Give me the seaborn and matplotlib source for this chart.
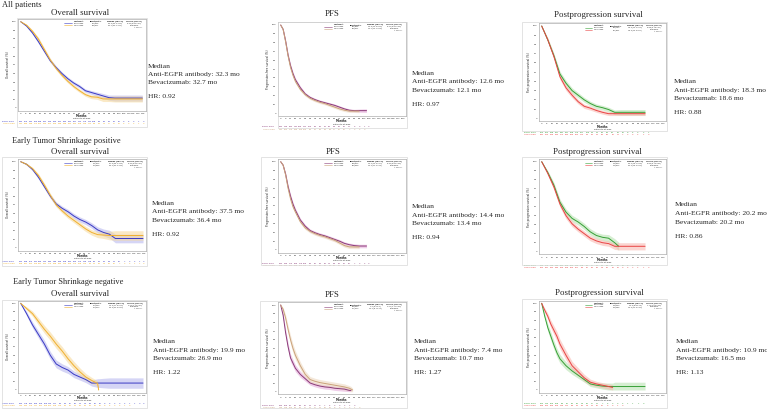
import matplotlib.pyplot as plt
import matplotlib.transforms as mtrans
from matplotlib.patches import Rectangle
import numpy as np
import pandas as pd
import seaborn as sns

nan = np.nan

# ---- Overall survival (months, % surviving, CI half-width) ----
os_all_t = [0, 6, 12, 18, 24, 30, 36, 42, 48, 54, 60, 66, 72, 78, 84, 90, 96, 102, 108, 114, 120, 124]
os_all_egfr = [100, 95, 87, 77, 66, 55, 47, 40, 34, 29, 25, 20, 18, 16, 14, 12, 11.5, 11.5, 11.5, 11.5, 11.5, 11.5]
os_all_vegf = [100, 96, 89, 80, 68, 56, 46, 38, 31, 25, 20, 15.5, 13, 12.5, 10.5, 10.5, 10.5, 10.5, 10.5, 10.5, 10.5, 10.5]
os_all_egfr_ci = [0, 1, 1.5, 2, 2, 2, 2, 2, 2, 2, 2, 2, 2.2, 2.5, 2.8, 3, 3.5, 3.5, 3.5, 3.5, 3.5, 3.5]
os_all_vegf_ci = [0, 1, 1.5, 2, 2, 2, 2, 2, 2, 2, 2, 2, 2.2, 2.5, 3, 3, 3.5, 3.5, 3.5, 3.5, 3.5, 3.5]

os_pos_t = [0, 6, 12, 18, 24, 30, 36, 42, 48, 54, 60, 66, 72, 78, 84, 90, 96, 102, 108, 114, 120, 124]
os_pos_egfr = [100, 97, 91, 82, 71, 60, 51, 46, 42, 37, 33, 30, 26, 21, 18, 16, 11, 11, 11, 11, 11, 11]
os_pos_vegf = [100, 97, 92, 84, 73, 61, 50, 43, 37, 32, 27, 22, 18, 15.5, 15, 14.5, 14.5, 14.5, 14.5, 14.5, 14.5, 14.5]
os_pos_egfr_ci = [0, 1, 1.5, 2, 2.2, 2.4, 2.5, 2.6, 2.7, 2.8, 3, 3, 3.2, 3.5, 4, 4.5, 5, 5, 5, 5, 5, 5]
os_pos_vegf_ci = [0, 1, 1.5, 2, 2.2, 2.4, 2.5, 2.6, 2.7, 2.8, 3, 3, 3.2, 3.5, 4, 5, 5.5, 5.5, 5.5, 5.5, 5.5, 5.5]

os_neg_t = [0, 6, 12, 18, 24, 30, 36, 42, 48, 54, 60, 66, 72, 78, 79, 84, 90, 96, 102, 108, 114, 120, 124]
os_neg_egfr = [100, 88, 75, 64, 53, 40, 30, 26, 23, 18, 15, 12, 8, 8, 8, 8, 8, 8, 8, 8, 8, 8, 8]
os_neg_vegf = [100, 94, 88, 79, 70, 62, 53, 45, 36, 28, 21, 15, 11, 7.5, 0, nan, nan, nan, nan, nan, nan, nan, nan]
os_neg_egfr_ci = [0, 2.5, 3.5, 4, 4.5, 4.5, 4.5, 4.2, 4, 3.8, 3.6, 3.5, 3.5, 5, 5, 5.5, 6, 6, 6, 6, 6, 6, 6]
os_neg_vegf_ci = [0, 2, 3, 4, 4.5, 4.8, 5, 5, 5, 4.8, 4.5, 4, 3.5, 3, 0, nan, nan, nan, nan, nan, nan, nan, nan]

# ---- PFS ----
pfs_all_t = [0, 3, 6, 9, 12, 15, 18, 24, 30, 36, 42, 48, 54, 60, 66, 72, 78, 84, 90, 96, 102, 105]
pfs_all_egfr = [100, 95, 82, 66, 54, 45, 38, 29, 22, 18, 15.5, 13.5, 12, 10.5, 9, 7, 5, 3.5, 3, 3, 3, 3]
pfs_all_vegf = [100, 95, 81, 65, 52, 43, 36, 27, 21, 17, 14.5, 12.5, 11, 9, 7, 5, 3.5, 2.5, 2.5, 2.5, nan, nan]
pfs_all_egfr_ci = [0, 1, 1.5, 2, 2, 2, 2, 1.8, 1.6, 1.5, 1.5, 1.5, 1.5, 1.5, 1.5, 1.5, 1.5, 1.5, 1.5, 1.8, 2, 2]
pfs_all_vegf_ci = [0, 1, 1.5, 2, 2, 2, 2, 1.8, 1.6, 1.5, 1.5, 1.5, 1.5, 1.5, 1.5, 1.5, 1.5, 1.5, 1.5, 1.8, nan, nan]

pfs_pos_t = [0, 3, 6, 9, 12, 15, 18, 24, 30, 36, 42, 48, 54, 60, 66, 72, 78, 84, 90, 96, 102, 105]
pfs_pos_egfr = [100, 96, 86, 72, 61, 52, 45, 34, 27, 22, 19.5, 17.5, 16, 14, 12, 10, 7.5, 6, 5, 4.5, 4.5, 4.5]
pfs_pos_vegf = [100, 96, 85, 70, 58, 49, 43, 32, 25, 21, 18.5, 16.5, 15, 13, 11, 8, 5, 3.5, 3.5, 3.5, nan, nan]
pfs_pos_egfr_ci = [0, 1, 1.5, 2, 2.2, 2.2, 2.2, 2, 1.8, 1.8, 1.8, 1.8, 1.8, 1.8, 1.8, 1.8, 1.8, 1.8, 2, 2, 2, 2]
pfs_pos_vegf_ci = [0, 1, 1.5, 2, 2.2, 2.2, 2.2, 2, 1.8, 1.8, 1.8, 1.8, 1.8, 1.8, 1.8, 1.8, 1.8, 1.8, 2, 2, nan, nan]

pfs_neg_t = [0, 3, 6, 9, 12, 15, 18, 24, 30, 36, 42, 48, 54, 60, 66, 72, 78, 84, 86, 88]
pfs_neg_egfr = [100, 88, 68, 52, 39, 33, 27, 20, 15, 10, 8, 6.5, 5.5, 5, 4, 3.5, 3, 1.5, 1.5, nan]
pfs_neg_vegf = [100, 95, 85, 72, 60, 50, 42, 30, 20, 14, 12, 10.5, 9.5, 8.5, 7.5, 6.5, 5.5, 4, 3, 2]
pfs_neg_egfr_ci = [0, 3, 4, 4.5, 4.5, 4, 4, 3.5, 3, 2.5, 2.5, 2.5, 2.5, 2.5, 2.5, 2.5, 2.5, 2, 2, nan]
pfs_neg_vegf_ci = [0, 2, 3.5, 4.5, 5, 5, 5, 4.5, 4, 3.5, 3.5, 3.5, 3.5, 3.5, 3.5, 3.5, 3.5, 3, 3, 2]

# ---- Postprogression survival ----
pps_all_t = [0, 6, 12, 18, 24, 30, 36, 42, 48, 54, 60, 66, 72, 78, 84, 90, 96, 102]
pps_all_egfr = [100, 85, 68, 48, 38, 30, 25, 20, 16, 13, 11.5, 9.5, 6.5, 6.5, 6.5, 6.5, 6.5, 6.5]
pps_all_vegf = [100, 85, 67, 45, 33, 25, 18, 13, 11, 8.5, 6.5, 5, 5, 5, 5, 5, 5, 5]
pps_all_egfr_ci = [0, 2, 2.5, 3, 3, 3, 2.8, 2.6, 2.5, 2.5, 2.5, 2.5, 2.5, 3, 3, 3, 3, 3]
pps_all_vegf_ci = [0, 2, 2.5, 3, 3, 2.8, 2.5, 2.3, 2.2, 2, 2, 2, 2, 2, 2, 2, 2, 2]

pps_pos_t = [0, 6, 12, 18, 24, 30, 36, 42, 48, 54, 60, 66, 72, 76, 78, 84, 90, 96, 102]
pps_pos_egfr = [100, 88, 74, 55, 44, 37, 33, 28, 22, 18, 16, 15, 10, 6, nan, nan, nan, nan, nan]
pps_pos_vegf = [100, 87, 72, 53, 40, 31, 25, 20, 15, 12, 10, 9, 6, 6, 6, 6, 6, 6, 6]
pps_pos_egfr_ci = [0, 2, 3, 3.5, 3.5, 3.5, 3.5, 3.5, 3.5, 3.5, 3.5, 4, 4.5, 4.5, nan, nan, nan, nan, nan]
pps_pos_vegf_ci = [0, 2, 3, 3.5, 3.5, 3.2, 3, 3, 3, 3, 3, 3, 3.5, 4, 4, 4, 4, 4, 4]

pps_neg_t = [0, 3, 6, 9, 12, 15, 18, 24, 30, 36, 42, 48, 54, 60, 66, 70, 72, 78, 84, 90, 96, 102]
pps_neg_egfr = [100, 85, 72, 62, 52, 43, 36, 28, 22, 17, 12, 7, 5.5, 4.5, 4, 4, 4, 4, 4, 4, 4, 4]
pps_neg_vegf = [100, 92, 85, 76, 69, 62, 53, 40, 28, 21, 14, 9, 7, 5.5, 4, 3, nan, nan, nan, nan, nan, nan]
pps_neg_egfr_ci = [0, 3, 4.5, 5, 5, 5, 5, 4.5, 4, 3.5, 3, 3, 3, 3.5, 4, 4, 5, 5, 5, 5, 5, 5]
pps_neg_vegf_ci = [0, 2.5, 3.5, 4.5, 5, 5.5, 5.5, 5.5, 5, 4.5, 4, 3.5, 3, 3, 3, 3, nan, nan, nan, nan, nan, nan]

# ---- x ticks and patients at risk ----
os_ticks = list(range(0, 126, 5))
pfs_ticks = list(range(0, 151, 6))
pps_ticks = list(range(0, 121, 5))

os_all_risk_e = [902, 876, 822, 756, 688, 611, 536, 463, 401, 350, 301, 257, 214, 176, 141, 108, 81, 58, 40, 26, 15, 9, 5, 3, 1, 0]
os_all_risk_v = [911, 889, 838, 772, 702, 620, 541, 466, 398, 338, 282, 232, 188, 149, 114, 84, 60, 41, 27, 17, 10, 6, 3, 2, 1, 0]
os_pos_risk_e = [612, 598, 570, 531, 489, 442, 393, 346, 305, 268, 234, 203, 173, 145, 118, 92, 69, 49, 33, 21, 12, 7, 4, 2, 1, 0]
os_pos_risk_v = [598, 587, 562, 525, 481, 431, 379, 328, 283, 243, 205, 170, 138, 110, 85, 63, 45, 31, 20, 12, 7, 4, 2, 1, 1, 0]
os_neg_risk_e = [290, 278, 252, 225, 199, 169, 143, 117, 96, 82, 67, 54, 41, 31, 23, 16, 12, 9, 6, 4, 3, 2, 1, 1, 0, 0]
os_neg_risk_v = [313, 302, 276, 247, 221, 189, 162, 138, 115, 95, 78, 62, 48, 36, 26, 18, 12, 8, 5, 3, 2, 1, 0]

pfs_all_risk_e = [902, 745, 482, 311, 206, 141, 103, 80, 64, 52, 42, 33, 25, 18, 11, 6, 3, 1, 0]
pfs_all_risk_v = [911, 752, 470, 295, 190, 130, 95, 73, 58, 46, 36, 27, 19, 12, 7, 4, 2, 0]
pfs_pos_risk_e = [612, 535, 370, 255, 176, 125, 95, 75, 61, 50, 41, 33, 26, 19, 12, 7, 4, 2, 0]
pfs_pos_risk_v = [598, 520, 352, 238, 161, 115, 87, 69, 56, 45, 36, 28, 20, 13, 8, 4, 2, 0]
pfs_neg_risk_e = [290, 156, 79, 45, 28, 19, 14, 11, 9, 7, 5, 4, 3, 2, 1, 0]
pfs_neg_risk_v = [313, 215, 120, 68, 40, 27, 21, 17, 14, 12, 10, 8, 6, 4, 2, 1, 0]

pps_all_risk_e = [780, 702, 598, 487, 381, 297, 228, 176, 137, 106, 82, 63, 48, 36, 26, 18, 12, 8, 5, 3, 2, 1]
pps_all_risk_v = [801, 720, 609, 490, 374, 280, 206, 152, 112, 82, 60, 44, 32, 23, 16, 11, 7, 4, 3, 2, 1, 0]
pps_pos_risk_e = [520, 476, 415, 349, 282, 228, 182, 146, 118, 95, 77, 62, 49, 38, 28, 19, 12, 6, 2, 0]
pps_pos_risk_v = [512, 467, 402, 333, 266, 209, 163, 127, 98, 75, 58, 45, 34, 25, 18, 13, 9, 6, 4, 2, 1, 0]
pps_neg_risk_e = [260, 213, 166, 128, 98, 75, 58, 45, 34, 25, 17, 11, 7, 5, 4, 3, 2, 1, 1, 1, 0]
pps_neg_risk_v = [289, 262, 226, 186, 146, 111, 84, 62, 46, 34, 24, 16, 10, 6, 3, 1, 0]

# ---- annotation values ----
row_titles = ["All patients", "Early Tumor Shrinkage positive", "Early Tumor Shrinkage negative"]
col_titles = ["Overall survival", "PFS", "Postprogression survival"]
median_egfr = [[32.3, 12.6, 18.3], [37.5, 14.4, 20.2], [19.9, 7.4, 10.9]]
median_bev = [[32.7, 12.1, 18.6], [36.4, 13.4, 20.2], [26.9, 10.7, 16.5]]
hr_values = [[0.92, 0.97, 0.88], [0.92, 0.94, 0.86], [1.22, 1.27, 1.13]]
events_egfr = [["612/902", "851/902", "598/780"], ["398/612", "566/612", "402/520"], ["214/290", "285/290", "196/260"]]
events_vegf = [["625/911", "862/911", "620/801"], ["412/598", "552/598", "405/512"], ["213/313", "310/313", "215/289"]]

# colours: line EGFR, band EGFR, line VEGF, band VEGF
os_cols = ["#3a3ac4", "#b4b4ee", "#f0b030", "#f6d898"]
pfs_cols = ["#8a3a78", "#e2a6d8", "#caa27a", "#ecd6bc"]
pps_cols = ["#36a036", "#b4e0ac", "#e84444", "#f8b4ac"]

W, H = 767, 412
sns.set_style("white")
plt.rcParams['font.family'] = ['Liberation Serif', 'DejaVu Serif']

fig = plt.figure(figsize=(W / 100, H / 100), dpi=100)


def ftext(x, y, s, **kw):
    fig.text(x / W, 1 - y / H, s, **kw)


def frame(x0, y0, x1, y1):
    fig.patches.append(Rectangle((x0 / W, 1 - y1 / H), (x1 - x0) / W, (y1 - y0) / H,
                                 transform=fig.transFigure, fill=False, ec="#d8d8d8", lw=0.5))


def km(px, t, s_e, s_v, ci_e, ci_v, cols, ticks, risk_e, risk_v, ylab, r, c):
    x0, x1, y100, y0 = px
    tmax = ticks[-1]
    kx = (x1 - x0) / tmax
    ky = (y0 - y100) / 100
    xpad, ypad = 0.02 * tmax, 3
    left, right = x0 - xpad * kx, x1 + xpad * kx
    top, bot = y100 - ypad * ky, y0 + ypad * ky
    ax = fig.add_axes([left / W, 1 - bot / H, (right - left) / W, (bot - top) / H])
    hpx = bot - top

    for s, ci, col in [(s_e, ci_e, cols[1]), (s_v, ci_v, cols[3])]:
        s = np.array(s, float)
        ci = np.array(ci, float)
        ax.fill_between(t, np.clip(s - ci, 0, None), s + ci, color=col, alpha=0.55, lw=0)

    df = pd.DataFrame({"month": t + t, "surv": list(s_e) + list(s_v),
                       "arm": ["EGFR mab"] * len(t) + ["VEGF mab"] * len(t)})
    sns.lineplot(data=df, x="month", y="surv", hue="arm", estimator=None, sort=False,
                 palette={"EGFR mab": cols[0], "VEGF mab": cols[2]}, lw=0.7, legend=False, ax=ax)

    ax.set_xlim(-xpad, tmax + xpad)
    ax.set_ylim(-ypad, 100 + ypad)
    ax.set_xticks(ticks)
    ax.set_xticklabels([str(v) for v in ticks], fontsize=1.7, family="DejaVu Sans")
    ax.set_yticks(range(0, 101, 10))
    ax.set_yticklabels([str(v) for v in range(0, 101, 10)], fontsize=1.7, family="DejaVu Sans")
    ax.tick_params(length=1, width=0.3, pad=0.6, colors="#333333")
    for sp in ax.spines.values():
        sp.set_color("#9a9a9a")
        sp.set_linewidth(0.4)
    ax.set_xlabel("")
    ax.set_ylabel(ylab, fontsize=2, labelpad=1, family="DejaVu Sans")

    ax.text(0.5, -5.5 / hpx, "Months", transform=ax.transAxes, ha="center", va="center",
            fontsize=2, fontweight="bold", family="DejaVu Sans")
    ax.text(0.5, -8 / hpx, "Patients at Risk", transform=ax.transAxes, ha="center", va="center",
            fontsize=1.6, family="DejaVu Sans")
    bt = mtrans.blended_transform_factory(ax.transData, ax.transAxes)
    for k, (risk, col, lab) in enumerate([(risk_e, cols[0], "EGFR mab"), (risk_v, cols[2], "VEGF mab")]):
        yy = -(11 + 2.2 * k) / hpx
        ax.text(-4 / (right - left), yy, lab, transform=ax.transAxes, ha="right", va="center",
                fontsize=1.6, color=col, family="DejaVu Sans")
        for i, v in enumerate(risk):
            ax.text(ticks[i], yy, str(v), transform=bt, ha="center", va="center",
                    fontsize=1.6, color=col, family="DejaVu Sans")

    # legend table in the upper right
    cols_x = [0.47, 0.61, 0.76, 0.91]
    heads = ["Treatment", "Events/Total", "Median (95% CI)", "Log HR (95% CI)"]
    me, mv, hr = median_egfr[r][c], median_bev[r][c], hr_values[r][c]
    rows = [["EGFR mab", events_egfr[r][c], f"{me:.1f} ({me - 2.1:.1f}-{me + 2.3:.1f})",
             f"{hr:.2f} ({hr - 0.1:.2f}-{hr + 0.12:.2f})"],
            ["VEGF mab", events_vegf[r][c], f"{mv:.1f} ({mv - 2.0:.1f}-{mv + 2.4:.1f})", "Reference"]]
    fs = 1.3
    for j, hd in enumerate(heads):
        ax.text(cols_x[j], 0.975, hd, transform=ax.transAxes, ha="center", va="center",
                fontsize=fs, family="DejaVu Sans", fontweight="bold")
    for i, row in enumerate(rows):
        yy = 0.955 - 0.022 * i
        ax.plot([0.36, 0.42], [yy, yy], transform=ax.transAxes, color=cols[0 if i == 0 else 2], lw=0.4)
        for j, cell in enumerate(row):
            ax.text(cols_x[j], yy, cell, transform=ax.transAxes, ha="center", va="center",
                    fontsize=fs, family="DejaVu Sans")
    ax.text(0.97, 0.911, "+ Censor", transform=ax.transAxes, ha="right", va="center",
            fontsize=fs, family="DejaVu Sans")
    return ax


# pixel geometry: x of month 0, x of last tick, y of 100 %, y of 0 %
geo = [[(20.7, 143.3, 21.7, 108), (280.7, 403.3, 25, 113.3), (541.7, 663.3, 26, 118.3)],
       [(20.7, 144, 161.7, 248), (280.7, 403.3, 161.7, 250), (541.7, 663.3, 161.7, 251.7)],
       [(20.7, 144, 303.3, 390), (280.7, 403.3, 305, 391.7), (541.7, 663.3, 303.3, 390)]]

frames = [[(17, 18, 147, 127), (278, 22, 407, 128), (522, 22, 667, 131)],
          [(2, 157, 147, 266), (261, 157, 407, 265), (522, 157, 667, 265)],
          [(2, 300, 147, 408), (260, 301, 407, 408), (522, 299, 667, 408)]]

panels = [
    [(os_all_t, os_all_egfr, os_all_vegf, os_all_egfr_ci, os_all_vegf_ci, os_cols, os_ticks, os_all_risk_e, os_all_risk_v, "Overall survival (%)"),
     (pfs_all_t, pfs_all_egfr, pfs_all_vegf, pfs_all_egfr_ci, pfs_all_vegf_ci, pfs_cols, pfs_ticks, pfs_all_risk_e, pfs_all_risk_v, "Progression-free survival (%)"),
     (pps_all_t, pps_all_egfr, pps_all_vegf, pps_all_egfr_ci, pps_all_vegf_ci, pps_cols, pps_ticks, pps_all_risk_e, pps_all_risk_v, "Post-progression survival (%)")],
    [(os_pos_t, os_pos_egfr, os_pos_vegf, os_pos_egfr_ci, os_pos_vegf_ci, os_cols, os_ticks, os_pos_risk_e, os_pos_risk_v, "Overall survival (%)"),
     (pfs_pos_t, pfs_pos_egfr, pfs_pos_vegf, pfs_pos_egfr_ci, pfs_pos_vegf_ci, pfs_cols, pfs_ticks, pfs_pos_risk_e, pfs_pos_risk_v, "Progression-free survival (%)"),
     (pps_pos_t, pps_pos_egfr, pps_pos_vegf, pps_pos_egfr_ci, pps_pos_vegf_ci, pps_cols, pps_ticks, pps_pos_risk_e, pps_pos_risk_v, "Post-progression survival (%)")],
    [(os_neg_t, os_neg_egfr, os_neg_vegf, os_neg_egfr_ci, os_neg_vegf_ci, os_cols, os_ticks, os_neg_risk_e, os_neg_risk_v, "Overall survival (%)"),
     (pfs_neg_t, pfs_neg_egfr, pfs_neg_vegf, pfs_neg_egfr_ci, pfs_neg_vegf_ci, pfs_cols, pfs_ticks, pfs_neg_risk_e, pfs_neg_risk_v, "Progression-free survival (%)"),
     (pps_neg_t, pps_neg_egfr, pps_neg_vegf, pps_neg_egfr_ci, pps_neg_vegf_ci, pps_cols, pps_ticks, pps_neg_risk_e, pps_neg_risk_v, "Post-progression survival (%)")],
]

for r in range(3):
    for c in range(3):
        frame(*frames[r][c])
        km(geo[r][c], *panels[r][c], r, c)

# titles
row_title_pos = [(2, 5), (11.7, 141), (12.7, 282)]
for (x, y), s in zip(row_title_pos, row_titles):
    ftext(x, y, s, fontsize=6, ha="left", va="center")
col_title_pos = [[(80, 12.7), (332, 14), (598, 15)],
                 [(80, 151.7), (333, 151.7), (597.5, 151.7)],
                 [(80, 294), (331.7, 295), (599, 293.3)]]
for r in range(3):
    for c in range(3):
        x, y = col_title_pos[r][c]
        ftext(x, y, col_titles[c], fontsize=6.4, ha="center", va="center")

# median / HR notes
note_pos = [[(148, 66), (411.7, 73.3), (674, 81.7)],
            [(151.7, 203.3), (411.7, 206.7), (675, 205)],
            [(152.7, 341.7), (414, 341.7), (676, 341.7)]]
for r in range(3):
    for c in range(3):
        x, y = note_pos[r][c]
        ftext(x, y, "Median", fontsize=5.4, va="center")
        ftext(x, y + 8.7, f"Anti-EGFR antibody: {median_egfr[r][c]} mo", fontsize=5.4, va="center")
        ftext(x, y + 17, f"Bevacizumab: {median_bev[r][c]} mo", fontsize=5.4, va="center")
        ftext(x, y + 31, f"HR: {hr_values[r][c]:.2f}", fontsize=5.4, va="center")

fig.savefig("out.png", dpi=100)
